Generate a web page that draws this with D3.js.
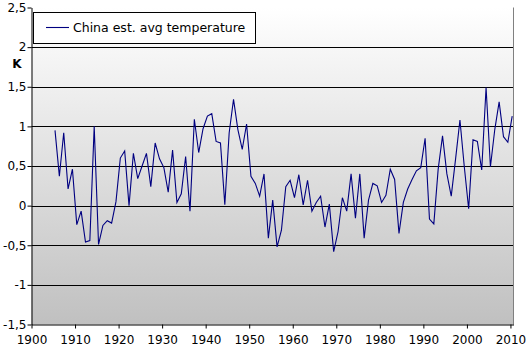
<!DOCTYPE html>
<html><head><meta charset="utf-8">
<script src="https://cdn.jsdelivr.net/npm/d3@7"></script>
<style>body{margin:0;background:#fff}svg{display:block}</style>
</head><body>
<script>
const years = d3.range(1905, 2011);
const temps = [
 0.95,0.37,0.92,0.21,0.46,-0.24,-0.07,-0.46,-0.44,1.00,
 -0.49,-0.25,-0.19,-0.22,0.05,0.60,0.69,0.00,0.66,0.34,
 0.50,0.66,0.24,0.79,0.59,0.48,0.17,0.70,0.04,0.15,
 0.62,-0.07,1.09,0.67,0.97,1.13,1.16,0.81,0.79,0.01,
 0.92,1.34,0.96,0.71,1.03,0.37,0.28,0.12,0.40,-0.41,
 0.07,-0.52,-0.31,0.24,0.32,0.10,0.39,0.01,0.32,-0.07,
 0.04,0.12,-0.27,0.02,-0.58,-0.33,0.10,-0.07,0.40,-0.16,
 0.40,-0.41,0.07,0.28,0.25,0.04,0.13,0.46,0.33,-0.35,
 0.04,0.21,0.33,0.44,0.48,0.85,-0.17,-0.23,0.46,0.88,
 0.40,0.12,0.59,1.08,0.49,-0.04,0.83,0.81,0.45,1.49,
 0.49,0.96,1.31,0.87,0.80,1.13
];
const xTicks = d3.range(1900, 2011, 10);
const yTicks = [-1.5,-1,-0.5,0,0.5,1,1.5,2,2.5];
const seriesName = "China est. avg temperature";
const unitLabel = "K";

const W = 528, H = 350;
const svg = d3.select("body").append("svg").attr("width", W).attr("height", H);
const x = d3.scaleLinear().domain([1900, 2010.7]).range([31.5, 513.5]);
const y = d3.scaleLinear().domain([-1.5, 2.5]).range([324.5, 7.5]);

const defs = svg.append("defs");
const grad = defs.append("linearGradient").attr("id","bg").attr("x1",0).attr("y1",0).attr("x2",0).attr("y2",1);
grad.append("stop").attr("offset","0%").attr("stop-color","#ffffff");
grad.append("stop").attr("offset","100%").attr("stop-color","#c0c0c0");

svg.append("rect").attr("x", x(1900)).attr("y", y(2.5))
  .attr("width", x(2010.7)-x(1900)).attr("height", y(-1.5)-y(2.5))
  .attr("fill","url(#bg)");

// gridlines
svg.append("g").selectAll("line").data(yTicks.filter(v => v > -1.5 && v < 2.5)).join("line")
  .attr("x1", x(1900)).attr("x2", x(2010.7))
  .attr("y1", d => Math.round(y(d))+0.5).attr("y2", d => Math.round(y(d))+0.5)
  .attr("stroke","#000").attr("stroke-width",1);

// right border
svg.append("line").attr("x1", x(2010.7)).attr("x2", x(2010.7)).attr("y1", y(2.5)).attr("y2", y(-1.5))
  .attr("stroke","#808080");

const fmt = d => String(d).replace(".", ",").replace("-", "-");
const yAxis = d3.axisLeft(y).tickValues(yTicks).tickSize(4).tickSizeOuter(0).tickFormat(fmt);
const gy = svg.append("g").attr("transform", `translate(${x(1900)},0)`).call(yAxis);
const xAxis = d3.axisBottom(x).tickValues(xTicks).tickSize(4).tickSizeOuter(0).tickFormat(d3.format("d"));
const gx = svg.append("g").attr("transform", `translate(0,${y(-1.5)})`).call(xAxis);
[gx, gy].forEach(g => {
  g.select(".domain").attr("stroke","#000");
  g.selectAll(".tick line").attr("stroke","#000");
  g.selectAll("text").attr("fill","#000").style("font-family","DejaVu Sans, Verdana, sans-serif").style("font-size","12px");
});
gx.selectAll("text").attr("dy","1.05em");
gy.selectAll("text").attr("x",-5);

svg.append("text").attr("x", 17).attr("y", 68).attr("text-anchor","middle")
  .style("font-family","DejaVu Sans, Verdana, sans-serif").style("font-size","12px").style("font-weight","bold")
  .text(unitLabel);

// data line
const line = d3.line().x((d,i) => x(years[i] + 0.4)).y(d => y(d));
svg.append("path").datum(temps).attr("d", line)
  .attr("fill","none").attr("stroke","#000080").attr("stroke-width",1.1);

// legend
const lg = svg.append("g");
lg.append("rect").attr("x", 33.5).attr("y", 12.5).attr("width", 222).attr("height", 31)
  .attr("fill","#fff").attr("stroke","#000");
lg.append("line").attr("x1", 46).attr("x2", 69).attr("y1", 27.5).attr("y2", 27.5)
  .attr("stroke","#000080").attr("stroke-width",1.1);
lg.append("text").attr("x", 73).attr("y", 32)
  .style("font-family","DejaVu Sans, Verdana, sans-serif").style("font-size","12.5px")
  .text(seriesName);
</script>
</body></html>
